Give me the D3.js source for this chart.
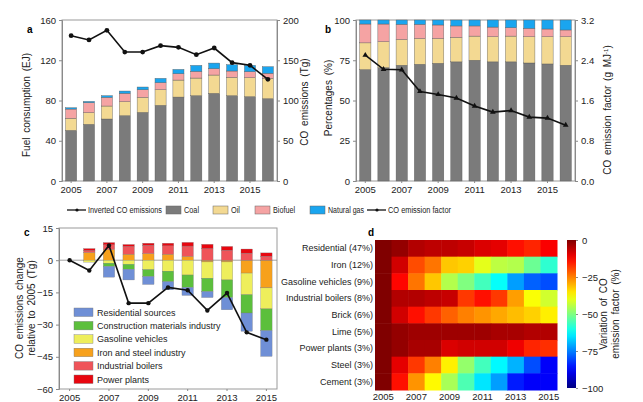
<!DOCTYPE html>
<html>
<head>
<meta charset="utf-8">
<script src="https://cdn.jsdelivr.net/npm/d3@7"></script>
<style>
  body { margin: 0; background: #fff; }
  svg { font-family: "Liberation Sans", Arial, sans-serif; }
  .axis path, .axis line { stroke: #8a8a8a; }
  .axis text { fill: #222; font-size: 9.5px; }
  .hm text { font-size: 9px; }
</style>
</head>
<body>
<span></span>
<script>
// panel a / b: fuel use by year
const years = [2005, 2006, 2007, 2008, 2009, 2010, 2011, 2012, 2013, 2014, 2015, 2016];
const coalEJ = [50.3, 56.3, 61.6, 64.9, 68.2, 75.2, 83.4, 84.8, 87.1, 84.8, 83.8, 81.8];
const oilEJ  = [12.0, 11.6, 12.9, 13.9, 14.9, 15.5, 16.9, 17.5, 18.2, 18.2, 18.8, 20.2];
const bioEJ  = [9.2, 9.9, 8.6, 8.3, 7.6, 7.0, 6.3, 6.6, 6.3, 6.3, 6.0, 5.0];
const gasEJ  = [1.3, 1.3, 1.7, 2.3, 2.7, 4.3, 4.3, 6.0, 5.6, 6.3, 6.3, 6.6];
const invertedCO = [180.5, 175.2, 187.2, 160.2, 160.2, 168.1, 166.0, 156.9, 165.2, 147.0, 143.7, 126.3];

const coalPct = [69.2, 70.4, 71.9, 72.5, 73.1, 74.0, 75.0, 74.0, 74.0, 73.3, 72.7, 71.9];
const oilPct  = [16.6, 16.1, 16.0, 16.0, 15.4, 15.2, 15.0, 15.6, 16.0, 16.3, 16.9, 17.7];
const bioPct  = [11.7, 11.0, 9.4, 8.8, 8.4, 7.1, 6.3, 6.0, 5.2, 5.2, 4.8, 4.2];
const gasPct  = [2.5, 2.5, 2.7, 2.7, 3.1, 3.7, 3.7, 4.4, 4.8, 5.2, 5.6, 6.2];
const emissionFactor = [2.5, 2.22, 2.21, 1.78, 1.72, 1.65, 1.49, 1.37, 1.4, 1.27, 1.25, 1.11];

const fuelKeys = ["Coal", "Oil", "Biofuel", "Natural gas"];
const fuelColors = ["#7b7b7b", "#f3d992", "#f5a3a3", "#1aa5ef"];

// panel c: change relative to 2005 by sector
const cYears = [2005, 2006, 2007, 2008, 2009, 2010, 2011, 2012, 2013, 2014, 2015];
const residential  = [0, 0, -5.0, -5.0, -3.7, -3.8, -3.7, -2.8, -5.7, -8.5, -12.0];
const construction = [0, 0, -1.5, -2.3, -3.2, -4.9, -5.8, -6.2, -8.2, -8.5, -10.1];
const gasoline     = [0, -0.9, -1.4, -1.9, -4.4, -5.1, -6.9, -7.6, -8.4, -10.1, -9.8];
const ironSteel    = [0, 3.6, 5.0, 2.8, 3.1, 2.8, 1.8, -0.8, -0.8, -6.0, -12.9];
const boilers      = [0, 0.9, 2.2, 3.6, 3.9, 3.9, 4.8, 5.4, 4.6, 3.3, 1.8];
const powerPlants  = [0, 0.9, 1.0, 0.9, 0.9, 1.2, 1.7, 2.0, 1.8, 1.9, 1.6];
const invertedChange = [0, -4.8, 6.9, -20, -20, -12.7, -14, -23.4, -15.3, -33.6, -37];

const sectorNames = ["Residential sources", "Construction materials industry", "Gasoline vehicles",
                     "Iron and steel industry", "Industrial boilers", "Power plants"];
const sectorColors = ["#6f8fd6", "#5cbf3c", "#eeee5c", "#f7a11c", "#ef5459", "#e8060f"];

// panel d: emission factor change (%)
const hmRows = ["Residential (47%)", "Iron (12%)", "Gasoline vehicles (9%)", "Industrial boilers (8%)",
                "Brick (6%)", "Lime (5%)", "Power plants (3%)", "Steel (3%)", "Cement (3%)"];
const efResidential = [0, -2, -5, -6, -6, -7, -9, -10, -14, -16, -12];
const efIron        = [0, -8, -20, -24, -32, -33, -40, -44, -45, -52, -58];
const efGasoline    = [0, -13, -24, -32, -45, -50, -56, -62, -72, -78, -80];
const efBoilers     = [0, -5, -5, -6, -7, -18, -14, -18, -28, -38, -42];
const efBrick       = [0, -8, -14, -18, -22, -25, -27, -29, -31, -33, -36];
const efLime        = [0, -2, -3, -3, -3, -3, -3, -4, -4, -5, -5];
const efPower       = [0, -2, -4, -4, -9, -8, -8, -8, -11, -16, -17];
const efSteel       = [0, -10, -18, -25, -36, -48, -56, -63, -70, -80, -88];
const efCement      = [0, -14, -27, -37, -46, -55, -65, -72, -85, -88, -88];
const hmValues = [efResidential, efIron, efGasoline, efBoilers, efBrick, efLime, efPower, efSteel, efCement];

const yearTicks = [2005, 2007, 2009, 2011, 2013, 2015];

const svg = d3.select("span").append("svg")
    .attr("width", 643)
    .attr("height", 402);

function panelLetter(x, y, t) {
    svg.append("text").attr("x", x).attr("y", y)
        .style("font-weight", "bold").style("font-size", "10px")
        .text(t);
}

function frame(x0, x1, y0, y1) {
    svg.append("rect").attr("x", x0).attr("y", y0)
        .attr("width", x1 - x0).attr("height", y1 - y0)
        .attr("fill", "none").attr("stroke", "#9a9a9a").attr("stroke-width", 1);
}

function axisTitle(x, y, lines, size) {
    const t = svg.append("text")
        .attr("transform", `translate(${x},${y}) rotate(-90)`)
        .attr("text-anchor", "middle")
        .style("font-size", size + "px")
        .style("word-spacing", "2px")
        .attr("fill", "#222");
    lines.forEach((l, i) => {
        t.append("tspan").attr("x", 0).attr("dy", i == 0 ? 0 : size * 1.15).html(l);
    });
}

// ---------- stacked fuel bars (a and b) ----------
function fuelPanel(opts) {
    const rows = years.map((y, i) => ({
        year: y,
        "Coal": opts.series[0][i], "Oil": opts.series[1][i],
        "Biofuel": opts.series[2][i], "Natural gas": opts.series[3][i]
    }));
    const stacked = d3.stack().keys(fuelKeys)(rows);

    const x = d3.scaleBand().domain(years).range([opts.x0, opts.x1]).paddingInner(0.38).paddingOuter(0.2);
    const yL = d3.scaleLinear().domain(opts.leftDomain).range([opts.y1, opts.y0]);
    const yR = d3.scaleLinear().domain(opts.rightDomain).range([opts.y1, opts.y0]);

    frame(opts.x0, opts.x1, opts.y0, opts.y1);

    svg.append("g").selectAll("g")
        .data(stacked)
        .join("g")
        .attr("fill", (d, i) => fuelColors[i])
        .selectAll("rect")
        .data(d => d)
        .join("rect")
        .attr("x", d => x(d.data.year))
        .attr("y", d => yL(d[1]))
        .attr("width", x.bandwidth())
        .attr("height", d => yL(d[0]) - yL(d[1]))
        .attr("stroke", "#5a5a5a")
        .attr("stroke-width", 0.4);

    const line = d3.line()
        .x((d, i) => x(years[i]) + x.bandwidth() / 2)
        .y(d => yR(d));
    svg.append("path")
        .datum(opts.line)
        .attr("d", line)
        .attr("fill", "none")
        .attr("stroke", "#111")
        .attr("stroke-width", 1.6);
    if (opts.marker == "circle") {
        svg.append("g").selectAll("circle")
            .data(opts.line)
            .join("circle")
            .attr("cx", (d, i) => x(years[i]) + x.bandwidth() / 2)
            .attr("cy", d => yR(d))
            .attr("r", 2.4)
            .attr("fill", "#111");
    } else {
        svg.append("g").selectAll("path.m")
            .data(opts.line)
            .join("path")
            .attr("d", d3.symbol(d3.symbolTriangle, 14))
            .attr("transform", (d, i) => `translate(${x(years[i]) + x.bandwidth() / 2},${yR(d)})`)
            .attr("fill", "#111");
    }

    svg.append("g").attr("class", "axis")
        .attr("transform", `translate(${opts.x0},0)`)
        .call(d3.axisLeft(yL).tickValues(opts.leftTicks).tickSize(3).tickFormat(opts.leftFmt || d3.format("d")));
    svg.append("g").attr("class", "axis")
        .attr("transform", `translate(${opts.x1},0)`)
        .call(d3.axisRight(yR).tickValues(opts.rightTicks).tickSize(3).tickFormat(opts.rightFmt || d3.format("d")));
    const xa = svg.append("g").attr("class", "axis")
        .attr("transform", `translate(0,${opts.y1})`)
        .call(d3.axisBottom(x).tickValues(yearTicks).tickSize(2).tickPadding(3));
    xa.select(".domain").remove();
}

fuelPanel({
    x0: 62, x1: 277, y0: 20, y1: 181,
    series: [coalEJ, oilEJ, bioEJ, gasEJ],
    leftDomain: [0, 160], leftTicks: [0, 40, 80, 120, 160],
    rightDomain: [0, 200], rightTicks: [0, 50, 100, 150, 200],
    line: invertedCO, marker: "circle"
});
fuelPanel({
    x0: 356, x1: 575, y0: 20, y1: 181,
    series: [coalPct, oilPct, bioPct, gasPct],
    leftDomain: [0, 100], leftTicks: [0, 25, 50, 75, 100],
    rightDomain: [0, 3.2], rightTicks: [0, 0.8, 1.6, 2.4, 3.2], rightFmt: d3.format(".1f"),
    line: emissionFactor, marker: "triangle"
});

panelLetter(27, 33, "a");
panelLetter(325, 33, "b");
axisTitle(30, 105, ["Fuel consumption (EJ)"], 10);
axisTitle(308, 102, ["CO emissions (Tg)"], 10);
axisTitle(332, 98, ["Percentages (%)"], 10);
axisTitle(611, 110, ["CO emission factor (g MJ<tspan dy='-3' font-size='6'>-1</tspan><tspan dy='3'>)</tspan>"], 10);

// legend row under a and b (text squeezed to the widths in the figure)
const lg = svg.append("g").style("font-size", "8.5px").attr("fill", "#222");
function legLine(x, label, w) {
    lg.append("line").attr("x1", x).attr("x2", x + 19).attr("y1", 210).attr("y2", 210)
        .attr("stroke", "#111").attr("stroke-width", 1.3);
    lg.append("circle").attr("cx", x + 10).attr("cy", 210).attr("r", 1.6).attr("fill", "#111");
    lg.append("text").attr("x", x + 21).attr("y", 213)
        .attr("textLength", w).attr("lengthAdjust", "spacingAndGlyphs").text(label);
}
function legBox(x, color, label, w) {
    lg.append("rect").attr("x", x).attr("y", 206).attr("width", 15).attr("height", 8)
        .attr("fill", color).attr("stroke", "#666").attr("stroke-width", 0.5);
    lg.append("text").attr("x", x + 18).attr("y", 213)
        .attr("textLength", w).attr("lengthAdjust", "spacingAndGlyphs").text(label);
}
legLine(67, "Inverted CO emissions", 74);
legBox(166, fuelColors[0], "Coal", 15);
legBox(213, fuelColors[1], "Oil", 9);
legBox(255, fuelColors[2], "Biofuel", 22);
legBox(310, fuelColors[3], "Natural gas", 36);
legLine(367, "CO emission factor", 63);

// ---------- panel c ----------
const cx0 = 59, cx1 = 277, cy0 = 228, cy1 = 389;
const cRows = cYears.map((y, i) => ({
    year: y,
    ironSteel: ironSteel[i], gasoline: gasoline[i], construction: construction[i],
    residential: residential[i], boilers: boilers[i], powerPlants: powerPlants[i]
}));
const cKeys = ["ironSteel", "gasoline", "construction", "residential", "boilers", "powerPlants"];
const cKeyColor = {
    residential: sectorColors[0], construction: sectorColors[1], gasoline: sectorColors[2],
    ironSteel: sectorColors[3], boilers: sectorColors[4], powerPlants: sectorColors[5]
};
const cStack = d3.stack().keys(cKeys).offset(d3.stackOffsetDiverging)(cRows);

const xC = d3.scaleBand().domain(cYears).range([cx0, cx1]).paddingInner(0.42).paddingOuter(0.25);
const yC = d3.scaleLinear().domain([-60, 15]).range([cy1, cy0]);

frame(cx0, cx1, cy0, cy1);
svg.append("line").attr("x1", cx0).attr("x2", cx1)
    .attr("y1", yC(0)).attr("y2", yC(0))
    .attr("stroke", "#8a8a8a").attr("stroke-width", 0.8);

svg.append("g").selectAll("g")
    .data(cStack)
    .join("g")
    .attr("fill", d => cKeyColor[d.key])
    .selectAll("rect")
    .data(d => d.filter(e => e[1] != e[0]))
    .join("rect")
    .attr("x", d => xC(d.data.year))
    .attr("y", d => yC(Math.max(d[0], d[1])))
    .attr("width", xC.bandwidth())
    .attr("height", d => Math.abs(yC(d[0]) - yC(d[1])))
    .attr("stroke", "#777")
    .attr("stroke-width", 0.3);

const cLine = d3.line()
    .x((d, i) => xC(cYears[i]) + xC.bandwidth() / 2)
    .y(d => yC(d));
svg.append("path").datum(invertedChange)
    .attr("d", cLine).attr("fill", "none")
    .attr("stroke", "#111").attr("stroke-width", 1.6);
svg.append("g").selectAll("circle")
    .data(invertedChange)
    .join("circle")
    .attr("cx", (d, i) => xC(cYears[i]) + xC.bandwidth() / 2)
    .attr("cy", d => yC(d))
    .attr("r", 2.2)
    .attr("fill", "#111");

svg.append("g").attr("class", "axis")
    .attr("transform", `translate(${cx0},0)`)
    .call(d3.axisLeft(yC).tickValues([15, 0, -15, -30, -45, -60]).tickSize(3));
const xcA = svg.append("g").attr("class", "axis")
    .attr("transform", `translate(0,${cy1})`)
    .call(d3.axisBottom(xC).tickValues(yearTicks).tickSize(2).tickPadding(3));
xcA.select(".domain").remove();

panelLetter(24, 236, "c");
axisTitle(23, 308, ["CO emissions change", "relative to 2005 (Tg)"], 10);

// legend inside c
const cl = svg.append("g").style("font-size", "9px").attr("fill", "#222");
sectorNames.forEach((name, i) => {
    const yy = 308 + i * 13.4;
    cl.append("rect").attr("x", 74).attr("y", yy).attr("width", 19).attr("height", 8.5)
        .attr("fill", sectorColors[i]).attr("stroke", "#777").attr("stroke-width", 0.4);
    cl.append("text").attr("x", 97).attr("y", yy + 7.5).text(name);
});

// ---------- panel d heatmap ----------
const dx0 = 375, dx1 = 557, dy0 = 240, dy1 = 390;
function jet(t) {
    const c = v => Math.max(0, Math.min(1, v));
    const r = c(1.5 - Math.abs(4 * t - 3));
    const g = c(1.5 - Math.abs(4 * t - 2));
    const b = c(1.5 - Math.abs(4 * t - 1));
    return d3.rgb(r * 255, g * 255, b * 255).toString();
}
const color = d3.scaleSequential(jet).domain([-100, 0]);
const xD = d3.scaleBand().domain(cYears).range([dx0, dx1]);
const yD = d3.scaleBand().domain(hmRows).range([dy0, dy1]);

const cells = [];
hmRows.forEach((r, ri) => cYears.forEach((y, ci) => cells.push({ row: r, year: y, v: hmValues[ri][ci] })));
svg.append("g").selectAll("rect")
    .data(cells)
    .join("rect")
    .attr("x", d => xD(d.year))
    .attr("y", d => yD(d.row))
    .attr("width", xD.bandwidth() + 0.5)
    .attr("height", yD.bandwidth() + 0.5)
    .attr("fill", d => color(d.v));

const dyA = svg.append("g").attr("class", "axis hm")
    .attr("transform", `translate(${dx0},0)`)
    .call(d3.axisLeft(yD).tickSize(0).tickPadding(2));
dyA.select(".domain").remove();
const dxA = svg.append("g").attr("class", "axis")
    .attr("transform", `translate(0,${dy1})`)
    .call(d3.axisBottom(xD).tickValues(yearTicks).tickSize(0).tickPadding(3));
dxA.select(".domain").remove();

panelLetter(368, 236, "d");

// colour bar
const cbx = 567, cbw = 9;
const defs = svg.append("defs");
const grad = defs.append("linearGradient").attr("id", "jetgrad")
    .attr("x1", 0).attr("y1", 1).attr("x2", 0).attr("y2", 0);
d3.range(0, 1.0001, 0.05).forEach(t => {
    grad.append("stop").attr("offset", t).attr("stop-color", jet(t));
});
const yCb = d3.scaleLinear().domain([-100, 0]).range([388, 240]);
svg.append("rect").attr("x", cbx).attr("y", 240).attr("width", cbw).attr("height", 148)
    .attr("fill", "url(#jetgrad)");
const cbA = svg.append("g").attr("class", "axis")
    .attr("transform", `translate(${cbx + cbw},0)`)
    .call(d3.axisRight(yCb).tickValues([0, -25, -50, -75, -100]).tickSize(2).tickPadding(4));
cbA.select(".domain").remove();
axisTitle(607, 314, ["Variation of CO", "emission factor (%)"], 10);
</script>
</body>
</html>
